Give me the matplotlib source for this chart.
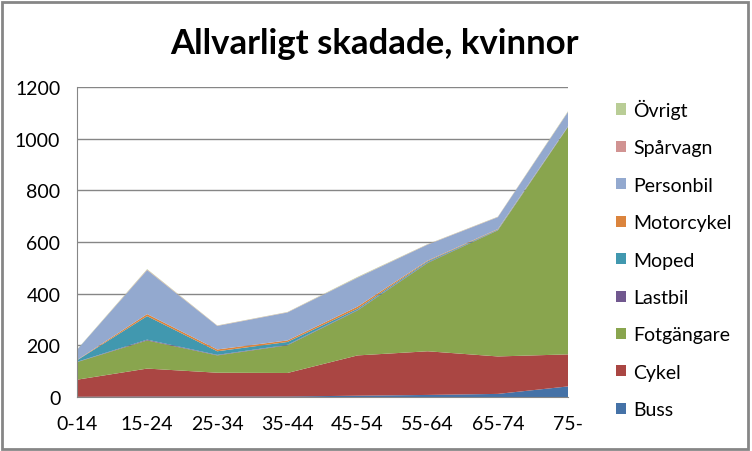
import matplotlib.pyplot as plt
from matplotlib.patches import Rectangle, Patch

# Age groups and series (stacked)
ages = ['0-14', '15-24', '25-34', '35-44', '45-54', '55-64', '65-74', '75-']
buss = [1, 2, 2, 2, 5, 8, 12, 41]
cykel = [66, 108, 92, 91, 156, 169, 145, 124]
fotgangare = [68, 109, 67, 107, 174, 342, 488, 880]
lastbil = [1, 3, 2, 2, 2, 2, 1, 1]
moped = [6, 91, 14, 11, 5, 4, 2, 1]
motorcykel = [1, 8, 7, 6, 8, 3, 2, 1]
personbil = [40, 170, 91, 108, 112, 62, 46, 55]
sparvagn = [0, 2, 1, 1, 1, 1, 1, 1]
ovrigt = [1, 2, 1, 1, 2, 1, 1, 2]

labels = ['Buss', 'Cykel', 'Fotgängare', 'Lastbil', 'Moped',
          'Motorcykel', 'Personbil', 'Spårvagn', 'Övrigt']
colors = ['#4572A7', '#AA4643', '#89A54E', '#71588F', '#4198AF',
          '#DB843D', '#93A9CF', '#D19392', '#B9CD96']
series = [buss, cykel, fotgangare, lastbil, moped,
          motorcykel, personbil, sparvagn, ovrigt]

plt.rcParams['font.family'] = ['Lato', 'DejaVu Sans']

fig = plt.figure(figsize=(7.52, 4.52), dpi=100)
ax = fig.add_axes([77 / 752, 1 - 398 / 452, (568 - 77) / 752, (398 - 88) / 452])

x = list(range(len(ages)))
ax.stackplot(x, *series, colors=colors, linewidth=0)

ax.set_xlim(0, len(ages) - 1)
ax.set_ylim(0, 1200)
ax.set_yticks(range(0, 1201, 200))
ax.set_xticks(x)
ax.set_xticklabels(ages)
ax.tick_params(length=0, labelsize=14)
ax.tick_params(axis='x', pad=13)
ax.tick_params(axis='y', pad=12)
ax.grid(axis='y', color='#868686', linewidth=1)
ax.set_axisbelow(True)
for s in ['top', 'right']:
    ax.spines[s].set_visible(False)
for s in ['left', 'bottom']:
    ax.spines[s].set_color('#868686')

fig.text(0.5 * (170 + 578) / 752, 1 - 44 / 452, 'Allvarligt skadade, kvinnor',
         ha='center', va='center', fontsize=25, fontweight='bold')

handles = [Patch(facecolor=c, edgecolor='none') for c in colors][::-1]
fig.legend(handles, labels[::-1], loc='upper left',
           bbox_to_anchor=(608 / 752, 1 - 92 / 452), frameon=False,
           fontsize=14, handlelength=0.5, handleheight=0.5,
           handletextpad=0.4, labelspacing=1.05, borderaxespad=0)

# outer chart border
fig.patches.append(Rectangle((2 / 752, 2 / 452), 746 / 752, 447 / 452,
                             transform=fig.transFigure, fill=False,
                             edgecolor='#868686', linewidth=2))

fig.savefig('out.png', dpi=100)
